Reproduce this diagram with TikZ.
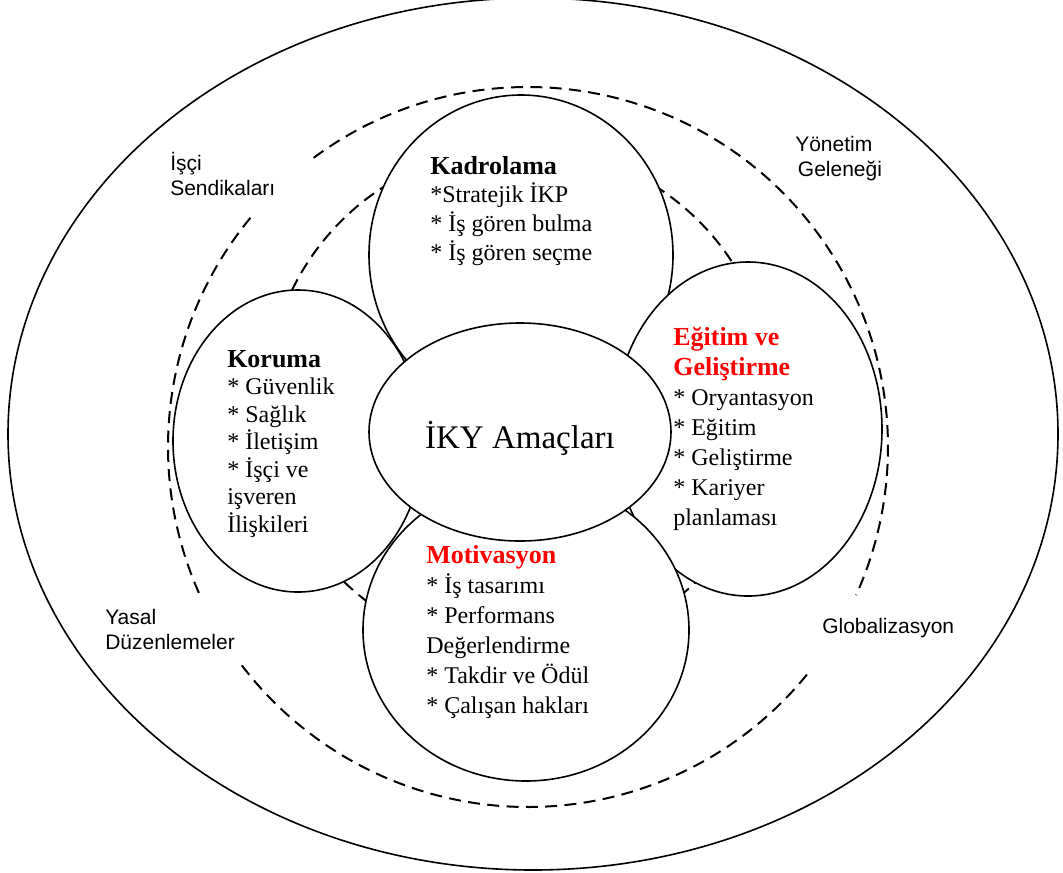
\documentclass[tikz,border=0pt]{standalone}
\usepackage{fontspec}
\setmainfont{Liberation Serif}
\newfontfamily\arialfam{Liberation Sans}
\usetikzlibrary{positioning}

\newcommand{\petalhead}[1]{{\fontsize{19.5}{22.5}\selectfont\bfseries #1}}
\newcommand{\petalheadred}[1]{\textcolor{red}{\petalhead{#1}}}

\begin{document}
\begin{tikzpicture}[x=0.75pt,y=-0.75pt,
    petal/.style={draw=black, line width=1.2pt, fill=white},
    ring/.style={draw=black, line width=1.5pt, dash pattern=on 9pt off 5.5pt},
    body/.style={anchor=base west, align=left, inner sep=0pt,
                 font=\fontsize{18}{22.5}\selectfont},
    outerlabel/.style={anchor=base west, align=left, inner sep=0pt,
                 font=\arialfam\fontsize{15.75}{18.75}\selectfont}]
  \useasboundingbox (0,0) rectangle (1063,872);

  % outer border
  \draw[line width=1.2pt] (533,434) ellipse [x radius=525, y radius=436];

  % dashed rings
  \draw[ring] (520,400) circle [radius=253];
  \draw[ring] ([shift={(233.45:360)}]528,447) arc [start angle=233.45, end angle=384.3, radius=360];
  \draw[ring] ([shift={(39.2:360)}]528,447) arc [start angle=39.2, end angle=142.9, radius=360];
  \draw[ring] ([shift={(156.1:360)}]528,447) arc [start angle=156.1, end angle=219.6, radius=360];

  % petals
  \draw[petal] (521,255) ellipse [x radius=152, y radius=160];
  \draw[petal] (298,441) ellipse [x radius=125, y radius=151];
  \draw[petal] (748,429) ellipse [x radius=134, y radius=167];
  \draw[petal] (526,630) ellipse [x radius=163, y radius=151];
  \draw[petal] (520,432) ellipse [x radius=151, y radius=109];

  % petal texts (anchored at the baseline of the last line)
  \node[body, font=\fontsize{18}{21.5}\selectfont] (kadro) at (430,260)
    {\petalhead{Kadrolama}\\*Stratejik İKP\\* İş gören bulma\\* İş gören seçme};
  \node[body, font=\fontsize{18}{20.6}\selectfont] (koruma) at (227,532)
    {\petalhead{Koruma}\\* Güvenlik\\* Sağlık\\* İletişim\\* İşçi ve\\işveren\\İlişkileri};
  \node[body] (egitim) at (673,525)
    {\petalheadred{Eğitim ve}\\\petalheadred{Geliştirme}\\* Oryantasyon\\* Eğitim\\* Geliştirme\\* Kariyer\\planlaması};
  \node[body] (motiv) at (426,713)
    {\petalheadred{Motivasyon}\\* İş tasarımı\\* Performans\\Değerlendirme\\* Takdir ve Ödül\\* Çalışan hakları};
  \node[anchor=base, inner sep=0pt, font=\fontsize{24.75}{30}\selectfont] (iky) at (520,448) {İKY Amaçları};

  % outer labels
  \node[outerlabel] (isci) at (170,195) {İşçi\\Sendikaları};
  \node[outerlabel] (yonetim) at (795,176) {Yönetim\\\hspace{2pt}Geleneği};
  \node[outerlabel] (yasal) at (105,649) {Yasal\\Düzenlemeler};
  \node[outerlabel] (global) at (822,633) {Globalizasyon};
\end{tikzpicture}
\end{document}
